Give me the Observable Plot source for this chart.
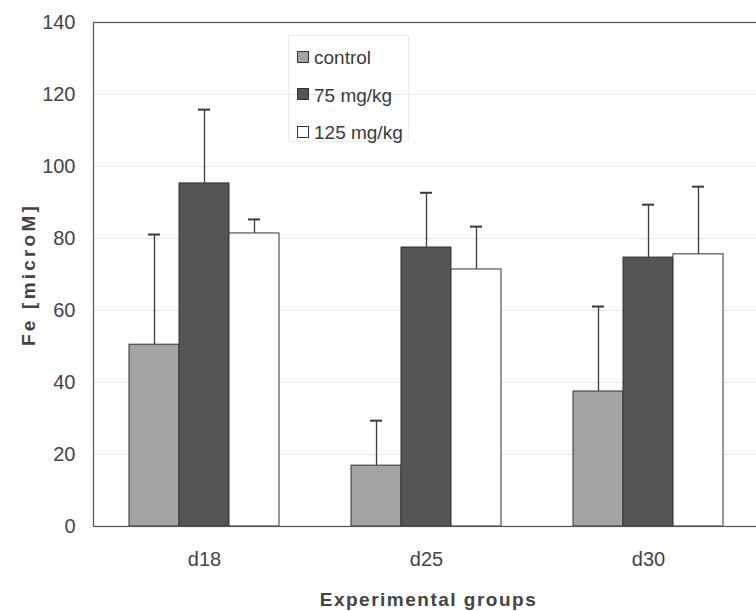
<!DOCTYPE html>
<html>
<head>
<meta charset="utf-8">
<script src="https://cdn.jsdelivr.net/npm/d3@7"></script>
<script src="https://cdn.jsdelivr.net/npm/@observablehq/plot@0.6"></script>
<style>
  html, body { margin: 0; padding: 0; background: #fff; overflow: hidden; }
  #chart { position: relative; width: 756px; height: 611px; }
  #legend {
    position: absolute; left: 288px; top: 35px; width: 121px; height: 107px;
    border: 1px solid #ececec; box-sizing: border-box;
    font-family: "Liberation Sans", Arial, sans-serif; font-size: 19px; color: #3a3a3a;
  }
  #legend .item { position: absolute; left: 8px; height: 22px; line-height: 22px; white-space: nowrap; }
  #legend .sw { display: inline-block; width: 10px; height: 10px; border: 1px solid #333; vertical-align: middle; margin-right: 5px; position: relative; top: -2px; }
</style>
</head>
<body>
<div id="chart"></div>
<script>
const groups = ["d18", "d25", "d30"];
const series = ["control", "75 mg/kg", "125 mg/kg"];
const controlMean = [50.5, 16.9, 37.5];
const controlErr  = [30.6, 12.5, 23.6];
const mg75Mean    = [95.3, 77.5, 74.7];
const mg75Err     = [20.5, 15.2, 14.7];
const mg125Mean   = [81.4, 71.4, 75.6];
const mg125Err    = [3.9, 11.9, 18.8];
const yTicks = [0, 20, 40, 60, 80, 100, 120, 140];
const colors = ["#a4a4a4", "#555555", "#ffffff"];
const xTitle = "Experimental groups";
const yTitle = "Fe [microM]";

const means = [controlMean, mg75Mean, mg125Mean];
const errs = [controlErr, mg75Err, mg125Err];
const rows = [];
groups.forEach((g, i) => series.forEach((s, j) => {
  rows.push({group: g, series: s, value: means[j][i], err: errs[j][i]});
}));

const chart = Plot.plot({
  width: 756,
  height: 611,
  marginLeft: 92,
  marginTop: 22,
  marginBottom: 85,
  marginRight: -4,
  style: {fontFamily: "'Liberation Sans', Arial, sans-serif", fontSize: "20px", color: "#444", background: "#fff"},
  fx: {domain: groups, range: [93, 759], padding: 0, axis: "bottom", label: null, tickSize: 0, tickPadding: 25},
  x: {domain: series, range: [128, 278], padding: 0, axis: null},
  y: {domain: [0, 140], ticks: yTicks, tickSize: 0, tickPadding: 18, label: null},
  color: {domain: series, range: colors},
  marks: [
    Plot.gridY(yTicks.filter(t => t > 0 && t < 140), {stroke: "#e6e6e6", strokeOpacity: 1, strokeWidth: 1}),
    Plot.barY(rows, {fx: "group", x: "series", y: "value", fill: "series", stroke: "#333", strokeWidth: 1}),
    Plot.ruleX(rows, {fx: "group", x: "series", y1: "value", y2: d => d.value + d.err, stroke: "#3a3a3a", strokeWidth: 1.3}),
    Plot.tickY(rows, {fx: "group", x: "series", y: d => d.value + d.err, stroke: "#3a3a3a", strokeWidth: 2, insetLeft: 19, insetRight: 19}),
    Plot.frame({stroke: "#555", strokeWidth: 1.2, facet: "super"}),
    Plot.text([xTitle], {facet: "super", frameAnchor: "bottom", textAnchor: "middle", dx: 2, dy: 79, fontWeight: "bold", fontSize: 19, fill: "#444"}),
    Plot.text([yTitle], {facet: "super", frameAnchor: "left", textAnchor: "middle", dx: -65, rotate: -90, fontWeight: "bold", fontSize: 19, fill: "#444"})
  ]
});

d3.select(chart).selectAll("text")
  .filter(function() { return this.textContent === xTitle; })
  .style("letter-spacing", "1.5px");
d3.select(chart).selectAll("text")
  .filter(function() { return this.textContent === yTitle; })
  .style("letter-spacing", "3.2px");

document.getElementById("chart").appendChild(chart);

const legend = document.createElement("div");
legend.id = "legend";
series.forEach((s, j) => {
  const it = document.createElement("div");
  it.className = "item";
  it.style.top = (11 + j * 37.5) + "px";
  const sw = document.createElement("span");
  sw.className = "sw";
  sw.style.background = colors[j];
  it.appendChild(sw);
  it.appendChild(document.createTextNode(s));
  legend.appendChild(it);
});
document.getElementById("chart").appendChild(legend);
</script>
</body>
</html>
